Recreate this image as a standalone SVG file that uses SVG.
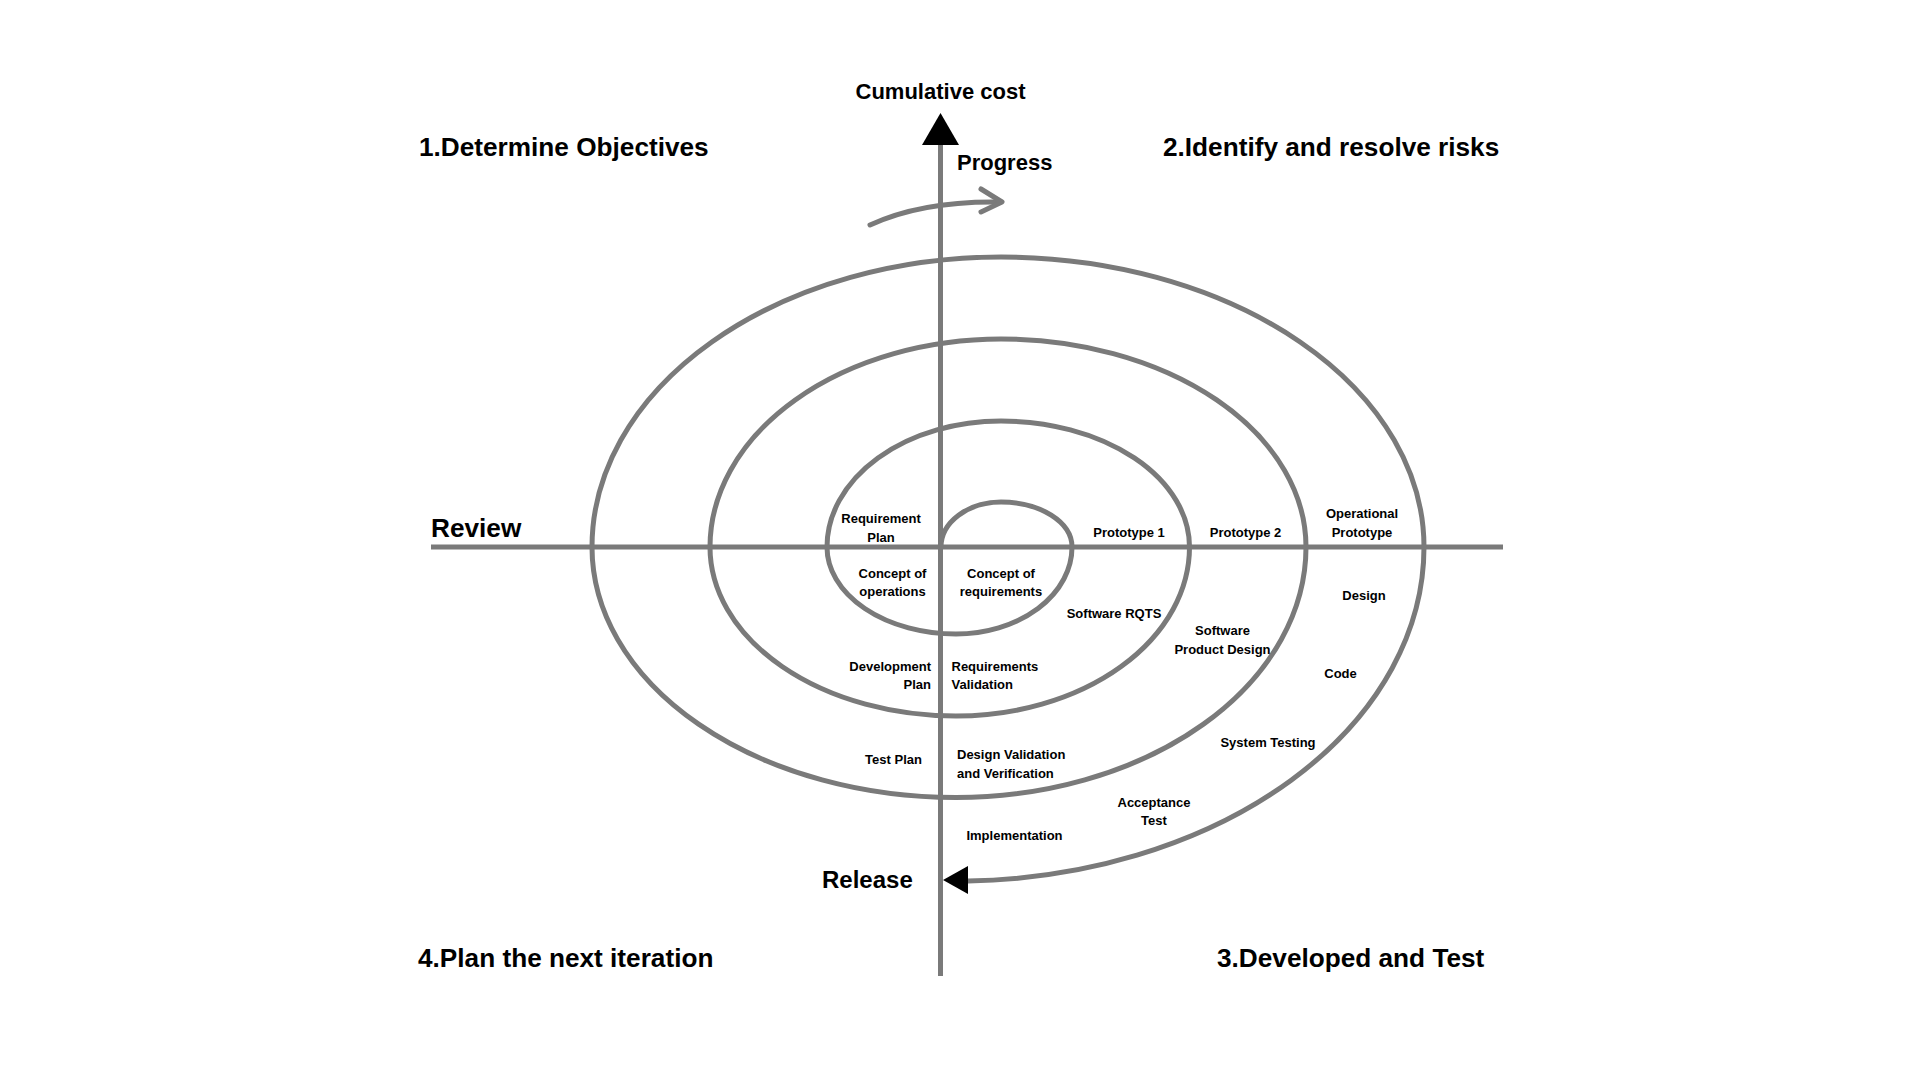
<svg xmlns="http://www.w3.org/2000/svg" width="1920" height="1080" viewBox="0 0 1920 1080">
<style>
.q{font-family:"Liberation Sans",Arial,sans-serif;font-weight:bold;font-size:26.2px;fill:#000}
.ax{font-family:"Liberation Sans",Arial,sans-serif;font-weight:bold;font-size:22px;fill:#000}
.s{font-family:"Liberation Sans",Arial,sans-serif;font-weight:bold;font-size:13px;fill:#000}
.m{text-anchor:middle}
.e{text-anchor:end}
.ln{fill:none;stroke:#7a7a7a;stroke-width:5}
</style>
<rect width="1920" height="1080" fill="#ffffff"/>
<g id="connectors">
  <line class="ln" x1="940.5" y1="140" x2="940.5" y2="976"/>
  <line class="ln" x1="431" y1="547" x2="1503" y2="547"/>
  <polygon points="940.5,113 922,145 959,145" fill="#000"/>
  <path id="spiral" class="ln" d="M 941 547 A 60 45 0 0 1 1001 502 A 71 45 0 0 1 1072 547 A 116 87 0 0 1 956 634 A 129 87 0 0 1 827 547 A 174 126 0 0 1 1001 421 A 188.5 126 0 0 1 1189.5 547 A 233.5 169 0 0 1 956 716 A 246 169 0 0 1 710 547 A 291 208 0 0 1 1001 339 A 305 208 0 0 1 1306 547 A 350 250.5 0 0 1 956 797.5 A 364 250.5 0 0 1 592 547 A 409 290 0 0 1 1001 257 A 423 290 0 0 1 1424 547 A 468 334 0 0 1 968 881"/>
  <polygon points="943,880 968,866 968,894" fill="#000"/>
  <path class="ln" d="M 870 225 C 900 211, 940 201, 1001 202" stroke-width="9" stroke-linecap="round"/>
  <path class="ln" d="M 981 189 L 1002 202 L 981 212" stroke-width="9" stroke-linecap="round" stroke-linejoin="round"/>
</g>
<g id="q1"><text class="q" x="419" y="156">1.Determine Objectives</text></g>
<g id="q2"><text class="q" x="1163" y="156">2.Identify and resolve risks</text></g>
<g id="q4"><text class="q" x="418" y="967">4.Plan the next iteration</text></g>
<g id="q3"><text class="q" x="1217" y="967">3.Developed and Test</text></g>
<g id="cost"><text class="ax m" x="940.5" y="99">Cumulative cost</text></g>
<g id="progress"><text class="ax" x="957" y="170">Progress</text></g>
<g id="review"><text class="q" x="431" y="537">Review</text></g>
<g id="release"><text class="q" x="822" y="888" style="font-size:24px">Release</text></g>
<g id="reqplan"><text class="s m" x="881" y="523">Requirement</text><text class="s m" x="881" y="541.5">Plan</text></g>
<g id="proto1"><text class="s m" x="1129" y="537">Prototype 1</text></g>
<g id="proto2"><text class="s m" x="1245.5" y="537">Prototype 2</text></g>
<g id="opproto"><text class="s m" x="1362" y="518">Operational</text><text class="s m" x="1362" y="536.5">Prototype</text></g>
<g id="conops"><text class="s m" x="892.5" y="577.5">Concept of</text><text class="s m" x="892.5" y="595.5">operations</text></g>
<g id="conreq"><text class="s m" x="1001" y="577.5">Concept of</text><text class="s m" x="1001" y="595.5">requirements</text></g>
<g id="swrqts"><text class="s m" x="1114" y="618">Software RQTS</text></g>
<g id="swpd"><text class="s m" x="1222.5" y="635">Software</text><text class="s m" x="1222.5" y="653.5">Product Design</text></g>
<g id="design"><text class="s m" x="1364" y="600">Design</text></g>
<g id="code"><text class="s m" x="1340.5" y="678">Code</text></g>
<g id="devplan"><text class="s e" x="931" y="670.5">Development</text><text class="s e" x="931" y="688.5">Plan</text></g>
<g id="reqval"><text class="s" x="951.5" y="670.5">Requirements</text><text class="s" x="951.5" y="688.5">Validation</text></g>
<g id="systest"><text class="s m" x="1268" y="747">System Testing</text></g>
<g id="testplan"><text class="s m" x="893.5" y="764">Test Plan</text></g>
<g id="dvv"><text class="s" x="957" y="758.5">Design Validation</text><text class="s" x="957" y="777.5">and Verification</text></g>
<g id="acctest"><text class="s m" x="1154" y="806.5">Acceptance</text><text class="s m" x="1154" y="824.5">Test</text></g>
<g id="impl"><text class="s m" x="1014.5" y="840">Implementation</text></g>
</svg>
